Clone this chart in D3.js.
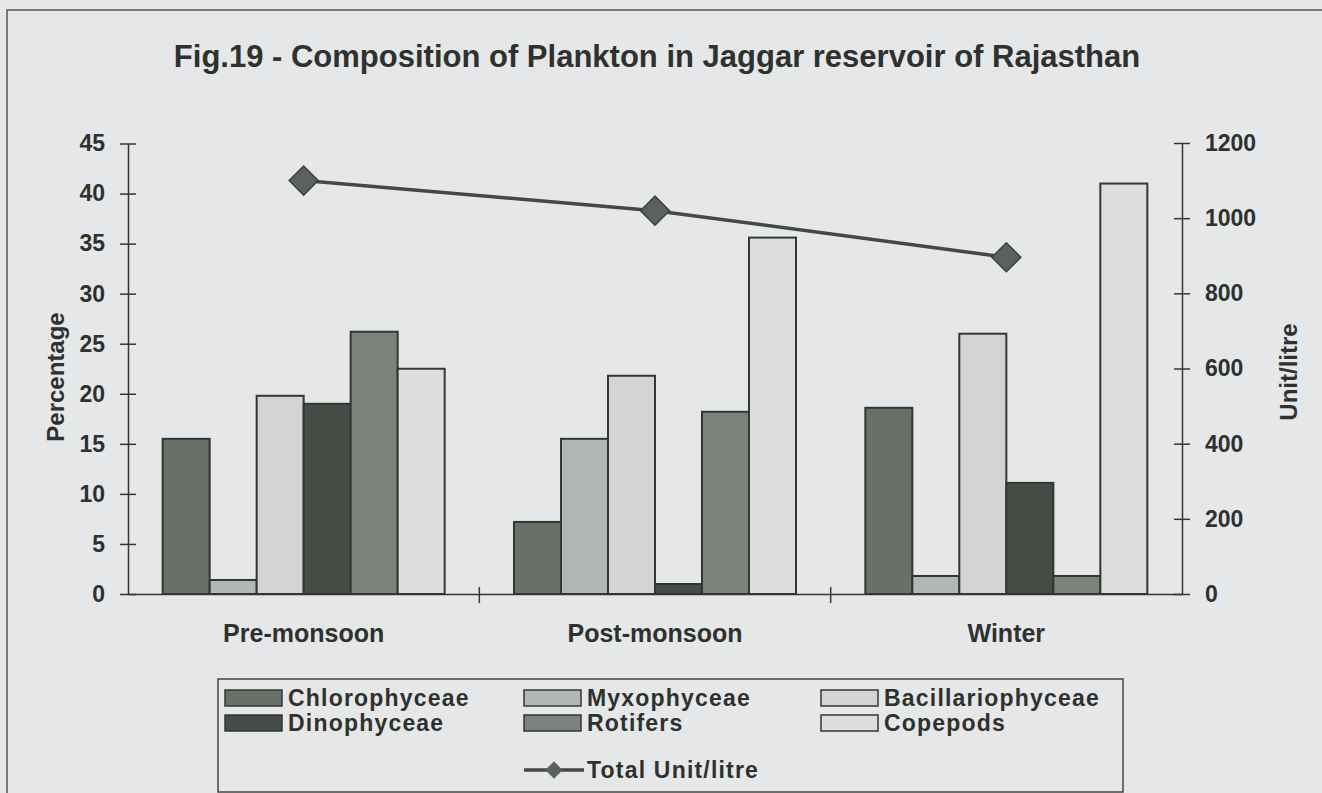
<!DOCTYPE html>
<html>
<head>
<meta charset="utf-8">
<script src="https://cdn.jsdelivr.net/npm/d3@7"></script>
<style>
  body { margin: 0; background: #e5e7e9; }
  svg { display: block; font-family: 'Liberation Sans', Arial, sans-serif; }
  .tick text { font-weight: bold; }
</style>
</head>
<body>
<svg width="1322" height="793"></svg>
<script>
let seasons = ['Pre-monsoon', 'Post-monsoon', 'Winter']
let groups = ['Chlorophyceae', 'Myxophyceae', 'Bacillariophyceae', 'Dinophyceae', 'Rotifers', 'Copepods']
let chlorophyceae = [15.5, 7.2, 18.6]
let myxophyceae = [1.4, 15.5, 1.8]
let bacillariophyceae = [19.8, 21.8, 26.0]
let dinophyceae = [19.0, 1.0, 11.1]
let rotifers = [26.2, 18.2, 1.8]
let copepods = [22.5, 35.6, 41.0]
let totalUnits = [1100, 1020, 896]
let pctTicks = [0, 5, 10, 15, 20, 25, 30, 35, 40, 45]
let unitTicks = [0, 200, 400, 600, 800, 1000, 1200]

let colors = ['#6a7068', '#b3b7b4', '#d3d5d4', '#474d46', '#7c827b', '#dcdedd']
let series = [chlorophyceae, myxophyceae, bacillariophyceae, dinophyceae, rotifers, copepods]
let ink = '#333733'

let mLeft = 128, mRight = 1182, mTop = 143, mBottom = 594

let svg = d3.select('svg')

// page frame
svg.append('path')
  .attr('d', 'M7,800 L7,10 L1330,10')
  .attr('fill', 'none')
  .attr('stroke', '#555')
  .attr('stroke-width', 1.5)

svg.append('text')
  .attr('x', 657).attr('y', 67)
  .attr('text-anchor', 'middle')
  .style('font-size', '31px').style('font-weight', 'bold')
  .attr('fill', '#2e312e')
  .text('Fig.19 - Composition of Plankton in  Jaggar reservoir of Rajasthan')

let xCat = d3.scaleBand().domain(seasons).range([mLeft, mRight])
let x1 = d3.scaleBand().domain(groups).range([0, 282])
let yPct = d3.scaleLinear().domain([0, 45]).range([mBottom, mTop + 0.5])
let yUnit = d3.scaleLinear().domain([0, 1200]).range([mBottom, mTop])

let groupX = s => xCat(s) + (xCat.bandwidth() - 282) / 2

// bars
seasons.forEach((s, i) => {
  svg.append('g')
    .attr('transform', 'translate(' + groupX(s) + ',0)')
    .selectAll('rect')
    .data(groups)
    .enter()
    .append('rect')
    .attr('x', d => x1(d))
    .attr('width', x1.bandwidth())
    .attr('y', (d, j) => yPct(series[j][i]))
    .attr('height', (d, j) => mBottom - yPct(series[j][i]))
    .attr('fill', (d, j) => colors[j])
    .attr('stroke', ink)
    .attr('stroke-width', 2)
})

// axes
let leftAxis = d3.axisLeft(yPct).tickValues(pctTicks).tickSizeInner(8).tickSizeOuter(0).tickPadding(15)
let gl = svg.append('g').attr('transform', 'translate(' + mLeft + ',0)').call(leftAxis)
gl.selectAll('.tick line').attr('x2', 8).attr('x1', -8)

let rightAxis = d3.axisRight(yUnit).tickValues(unitTicks).tickFormat(d3.format('d'))
  .tickSizeInner(8).tickSizeOuter(0).tickPadding(15)
let gr = svg.append('g').attr('transform', 'translate(' + mRight + ',0)').call(rightAxis)
gr.selectAll('.tick line').attr('x1', -8).attr('x2', 8)

let bottomAxis = d3.axisBottom(xCat).tickSize(0).tickPadding(30)
let gb = svg.append('g').attr('transform', 'translate(0,' + mBottom + ')').call(bottomAxis)

// category boundary ticks
svg.append('g').selectAll('line')
  .data(seasons.slice(1))
  .enter()
  .append('line')
  .attr('x1', d => xCat(d)).attr('x2', d => xCat(d))
  .attr('y1', mBottom - 7).attr('y2', mBottom + 9)
  .attr('stroke', ink).attr('stroke-width', 1.5)

svg.selectAll('.domain').attr('stroke', ink).attr('stroke-width', 1.5)
svg.selectAll('.tick line').attr('stroke', ink).attr('stroke-width', 1.5)
svg.selectAll('.tick text').attr('fill', '#2e312e').style('font-size', '23px')
gb.selectAll('.tick text').style('font-size', '25px')

// total line
let cx = s => xCat(s) + xCat.bandwidth() / 2
let line = d3.line().x((d, i) => cx(seasons[i])).y(d => yUnit(d))
svg.append('path')
  .datum(totalUnits)
  .attr('d', line)
  .attr('fill', 'none')
  .attr('stroke', '#444944')
  .attr('stroke-width', 3.5)

let diamond = d3.symbol().type(d3.symbolSquare).size(420)
svg.append('g').selectAll('path')
  .data(totalUnits)
  .enter()
  .append('path')
  .attr('d', diamond)
  .attr('transform', (d, i) => 'translate(' + cx(seasons[i]) + ',' + yUnit(d) + ') rotate(45)')
  .attr('fill', '#5c625b')
  .attr('stroke', '#3e433e')
  .attr('stroke-width', 1.5)

// axis titles
svg.append('text')
  .attr('transform', 'translate(64,377) rotate(-90)')
  .attr('text-anchor', 'middle')
  .style('font-size', '24px').style('font-weight', 'bold')
  .attr('fill', '#2e312e')
  .text('Percentage')

svg.append('text')
  .attr('transform', 'translate(1297,372) rotate(-90)')
  .attr('text-anchor', 'middle')
  .style('font-size', '24px').style('font-weight', 'bold')
  .attr('fill', '#2e312e')
  .text('Unit/litre')

// legend
let legend = svg.append('g')
legend.append('rect')
  .attr('x', 218).attr('y', 679).attr('width', 905).attr('height', 113)
  .attr('fill', 'none').attr('stroke', '#444').attr('stroke-width', 1.5)

let colX = [225, 524, 821]
let rowY = [698, 723]
let items = legend.selectAll('g.item')
  .data(groups)
  .enter()
  .append('g')
  .attr('transform', (d, i) => 'translate(' + colX[i % 3] + ',' + rowY[Math.floor(i / 3)] + ')')
items.append('rect')
  .attr('x', 0).attr('y', -8).attr('width', 57).attr('height', 16)
  .attr('fill', (d, i) => colors[i])
  .attr('stroke', ink).attr('stroke-width', 1.5)
items.append('text')
  .attr('x', 63).attr('y', 8)
  .style('font-size', '23px').style('font-weight', 'bold')
  .style('letter-spacing', '1.2px')
  .attr('fill', '#2e312e')
  .text(d => d)

let lt = legend.append('g').attr('transform', 'translate(524,770)')
lt.append('line').attr('x1', 0).attr('x2', 60).attr('y1', 0).attr('y2', 0)
  .attr('stroke', '#444944').attr('stroke-width', 3.5)
lt.append('path').attr('d', d3.symbol().type(d3.symbolSquare).size(150))
  .attr('transform', 'translate(30,0) rotate(45)')
  .attr('fill', '#5c625b')
lt.append('text')
  .attr('x', 63).attr('y', 8)
  .style('font-size', '23px').style('font-weight', 'bold')
  .style('letter-spacing', '1.2px')
  .attr('fill', '#2e312e')
  .text('Total Unit/litre')
</script>
</body>
</html>
